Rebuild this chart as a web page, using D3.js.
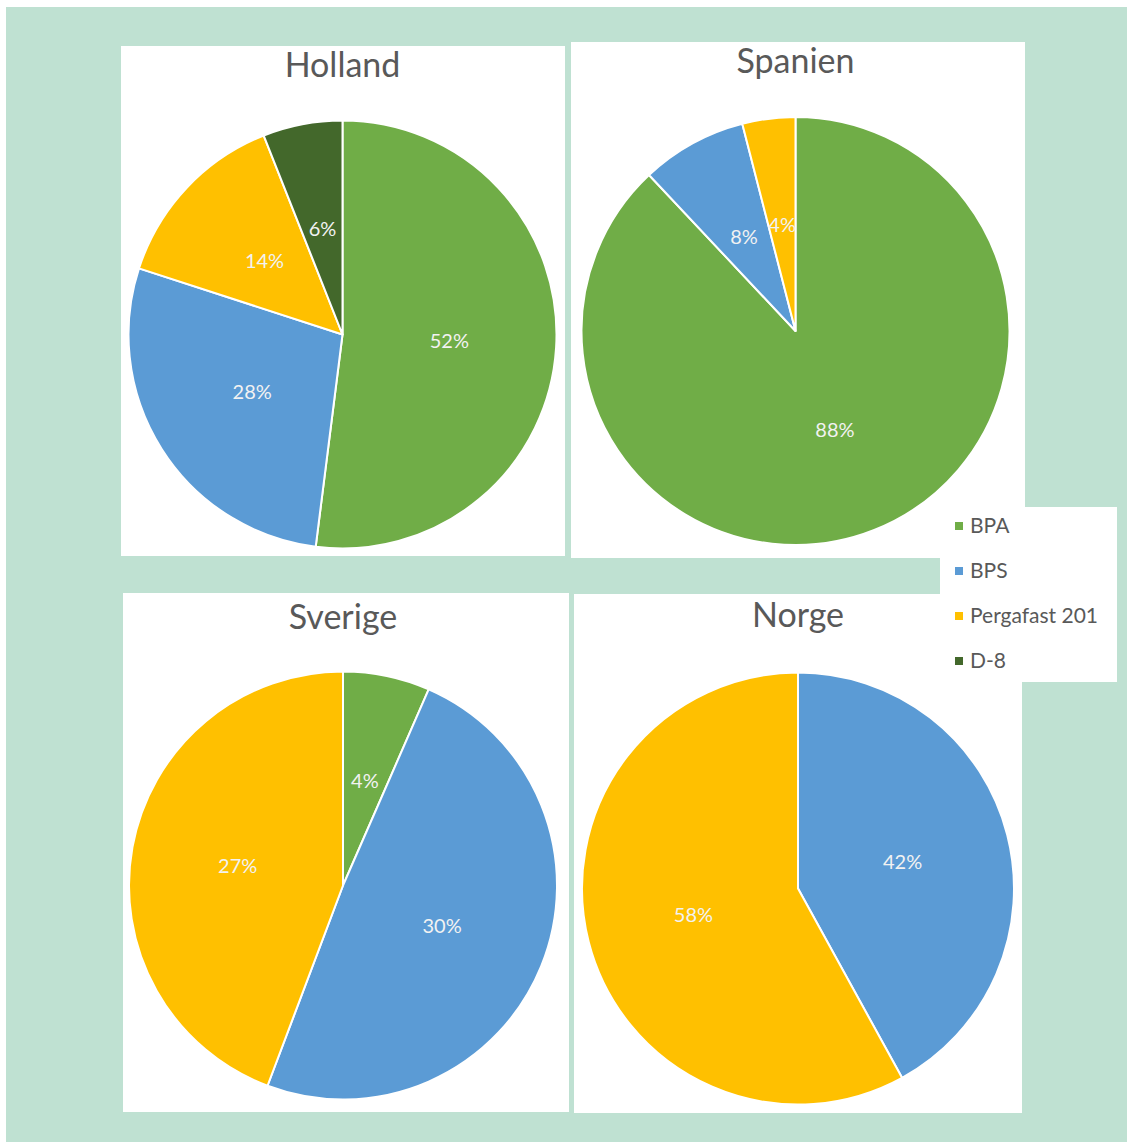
<!DOCTYPE html>
<html>
<head>
<meta charset="utf-8">
<script src="https://cdn.jsdelivr.net/npm/d3@7"></script>
<style>
  html, body { margin: 0; padding: 0; background: #ffffff; }
  svg { display: block; }
</style>
</head>
<body>
<svg id="chart" width="1127" height="1142"></svg>
<script>
// ---- data ----
const seriesNames = ["BPA", "BPS", "Pergafast 201", "D-8"];
const seriesColors = ["#70AD47", "#5B9BD5", "#FFC000", "#43682B"];
const countries = ["Holland", "Spanien", "Sverige", "Norge"];
const hollandValues = [52, 28, 14, 6];
const spanienValues = [88, 8, 4, 0];
const sverigeValues = [4, 30, 27, 0];
const norgeValues = [0, 42, 58, 0];
const valuesByCountry = [hollandValues, spanienValues, sverigeValues, norgeValues];

// ---- layout ----
const panels = [
  { x: 121, y: 46, w: 444, h: 510, cx: 342.5, cy: 334.5, r: 214, ty: 77 },
  { x: 571, y: 42, w: 454, h: 516, cx: 795.5, cy: 331, r: 214, ty: 73 },
  { x: 123, y: 593, w: 446, h: 519, cx: 343, cy: 885.5, r: 214, ty: 629 },
  { x: 574, y: 594, w: 448, h: 519, cx: 798, cy: 888.5, r: 216, ty: 627 }
];
const FONT = "Lato, 'Open Sans', sans-serif";

const svg = d3.select("#chart");
svg.append("rect").attr("x", 6).attr("y", 7).attr("width", 1121).attr("height", 1135)
  .attr("fill", "#BFE1D2");

const color = d3.scaleOrdinal().domain(seriesNames).range(seriesColors);
const pie = d3.pie().sort(null).value(d => d.value).startAngle(0).endAngle(2 * Math.PI);

countries.forEach((name, i) => {
  const p = panels[i];
  const g = svg.append("g");
  g.append("rect").attr("x", p.x).attr("y", p.y).attr("width", p.w).attr("height", p.h)
    .attr("fill", "#ffffff");
  g.append("text").attr("x", p.cx).attr("y", p.ty).attr("text-anchor", "middle")
    .attr("font-family", FONT).attr("font-size", 34).attr("fill", "#595959")
    .text(name);

  const data = seriesNames.map((s, k) => ({ name: s, value: valuesByCountry[i][k] }))
    .filter(d => d.value > 0);
  const arcs = pie(data);
  const arc = d3.arc().innerRadius(0).outerRadius(p.r);
  const pg = g.append("g").attr("transform", `translate(${p.cx},${p.cy})`);
  pg.selectAll("path").data(arcs).join("path")
    .attr("d", arc)
    .attr("fill", d => color(d.data.name))
    .attr("stroke", "#ffffff").attr("stroke-width", 2).attr("stroke-linejoin", "round");
  pg.selectAll("text").data(arcs).join("text")
    .attr("transform", d => `translate(${arc.centroid(d)})`)
    .attr("text-anchor", "middle").attr("dy", "0.35em")
    .attr("font-family", FONT).attr("font-size", 20).attr("fill", "#F2F2F2")
    .text(d => d.data.value + "%");
});

// ---- legend ----
const lg = svg.append("g");
lg.append("rect").attr("x", 940).attr("y", 507).attr("width", 177).attr("height", 175)
  .attr("fill", "#ffffff");
const legendY = d3.scalePoint().domain(seriesNames).range([526, 661]);
seriesNames.forEach(s => {
  lg.append("rect").attr("x", 955).attr("y", legendY(s) - 4).attr("width", 8).attr("height", 8)
    .attr("fill", color(s));
  lg.append("text").attr("x", 970).attr("y", legendY(s)).attr("dy", "0.35em")
    .attr("font-family", FONT).attr("font-size", 21).attr("fill", "#595959").text(s);
});
</script>
</body>
</html>
